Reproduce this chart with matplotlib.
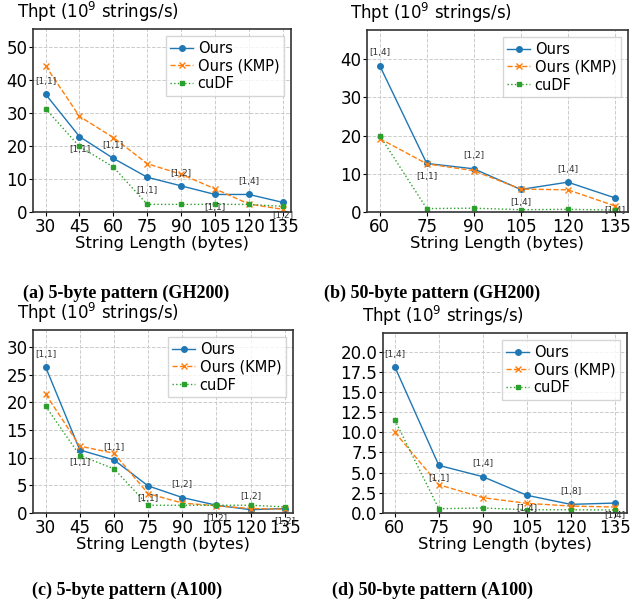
import matplotlib
matplotlib.use("Agg")
import matplotlib.pyplot as plt

# ---- data ----
len_a = [30, 45, 60, 75, 90, 105, 120, 135]
ours_a = [35.6, 22.8, 16.2, 10.5, 7.9, 5.3, 5.3, 2.9]
kmp_a = [44.2, 28.9, 22.5, 14.6, 11.4, 7.0, 2.4, 0.8]
cudf_a = [31.2, 19.8, 13.6, 2.3, 2.3, 2.3, 2.3, 1.7]
lab_a = ["[1,1]", "[1,1]", "[1,1]", "[1,1]", "[1,2]", "[1,1]", "[1,4]", "[1,2]"]

len_b = [60, 75, 90, 105, 120, 135]
ours_b = [38.3, 12.7, 11.3, 5.9, 7.8, 3.7]
kmp_b = [19.2, 12.6, 10.8, 6.0, 5.8, 1.6]
cudf_b = [20.0, 0.9, 1.0, 0.6, 0.7, 0.5]
lab_b = ["[1,4]", "[1,1]", "[1,2]", "[1,4]", "[1,4]", "[1,4]"]

len_c = [30, 45, 60, 75, 90, 105, 120, 135]
ours_c = [26.4, 11.4, 9.6, 4.9, 2.8, 1.4, 0.6, 0.8]
kmp_c = [21.5, 12.1, 10.8, 3.5, 1.8, 1.3, 0.8, 0.7]
cudf_c = [19.3, 10.4, 8.0, 1.4, 1.4, 1.4, 1.4, 1.1]
lab_c = ["[1,1]", "[1,1]", "[1,1]", "[1,1]", "[1,2]", "[1,2]", "[1,2]", "[1,2]"]

len_d = [60, 75, 90, 105, 120, 135]
ours_d = [18.1, 5.9, 4.5, 2.2, 1.07, 1.23]
kmp_d = [10.0, 3.5, 1.9, 1.2, 0.86, 0.74]
cudf_d = [11.5, 0.53, 0.62, 0.4, 0.4, 0.37]
lab_d = ["[1,4]", "[1,1]", "[1,4]", "[1,4]", "[1,8]", "[1,4]"]

captions = ["(a) 5-byte pattern (GH200)", "(b) 50-byte pattern (GH200)",
            "(c) 5-byte pattern (A100)", "(d) 50-byte pattern (A100)"]

W, H = 642, 609
fig = plt.figure(figsize=(W / 100, H / 100), dpi=100)


def px_axes(l, t, r, b):
    return fig.add_axes([l / W, 1 - b / H, (r - l) / W, (b - t) / H])


def panel(ax, xs, ours, kmp, cudf, labels, ylim, yticks, xpad, title_dx):
    ax.plot(xs, ours, "-o", color="#1f77b4", lw=1.0, ms=4, label="Ours")
    ax.plot(xs, kmp, "--x", color="#ff7f0e", lw=1.0, ms=4, label="Ours (KMP)")
    ax.plot(xs, cudf, ":s", color="#2ca02c", lw=1.0, ms=2.5, label="cuDF")
    for i, (x, y, s) in enumerate(zip(xs, ours, labels)):
        if i % 2 == 0:
            ax.annotate(s, (x, y), xytext=(0, 6), textcoords="offset points",
                        ha="center", va="bottom", fontsize=6.5, color="#333333")
        else:
            ax.annotate(s, (x, y), xytext=(0, -6), textcoords="offset points",
                        ha="center", va="top", fontsize=6.5, color="#333333")
    ax.set_xticks(xs)
    step = xs[1] - xs[0]
    ax.set_xlim(xs[0] - xpad[0] * step, xs[-1] + xpad[1] * step)
    ax.set_ylim(*ylim)
    ax.set_yticks(yticks)
    ax.tick_params(labelsize=12, length=3, pad=1)
    ax.grid(True, ls="--", color="#cccccc", lw=0.7)
    for sp in ax.spines.values():
        sp.set_color("#333333")
        sp.set_linewidth(1.2)
    ax.set_xlabel("String Length (bytes)", fontsize=11.8, labelpad=0)
    ax.text(title_dx, 1.03, "Thpt ($10^9$ strings/s)", transform=ax.transAxes,
            fontsize=12, ha="left", va="bottom")
    ax.legend(loc="upper right", fontsize=10.5, handlelength=1.6,
              borderpad=0.3, labelspacing=0.2, handletextpad=0.3,
              fancybox=False, edgecolor="#cccccc")


ax_a = px_axes(33, 29, 291, 212)
panel(ax_a, len_a, ours_a, kmp_a, cudf_a, lab_a, (0, 55.3),
      [0, 10, 20, 30, 40, 50], (0.37, 0.24), -0.062)

ax_b = px_axes(367, 30, 628, 212)
panel(ax_b, len_b, ours_b, kmp_b, cudf_b, lab_b, (0, 47.6),
      [0, 10, 20, 30, 40], (0.27, 0.28), -0.065)

ax_c = px_axes(33, 330, 293, 513)
panel(ax_c, len_c, ours_c, kmp_c, cudf_c, lab_c, (0, 33.1),
      [0, 5, 10, 15, 20, 25, 30], (0.37, 0.24), -0.062)

ax_d = px_axes(383, 333, 627, 513)
panel(ax_d, len_d, ours_d, kmp_d, cudf_d, lab_d, (0, 22.3),
      [0, 2.5, 5, 7.5, 10, 12.5, 15, 17.5, 20], (0.27, 0.28), -0.086)
ax_d.yaxis.set_major_formatter(matplotlib.ticker.FormatStrFormatter("%.1f"))

cap_pos = [(126, 293), (432, 293), (127, 590), (432, 590)]
for (cx, cy), cap in zip(cap_pos, captions):
    fig.text(cx / W, 1 - cy / H, cap, ha="center", va="center",
             fontsize=13, fontweight="bold", family="Liberation Serif")

fig.savefig("out.png", dpi=100)
